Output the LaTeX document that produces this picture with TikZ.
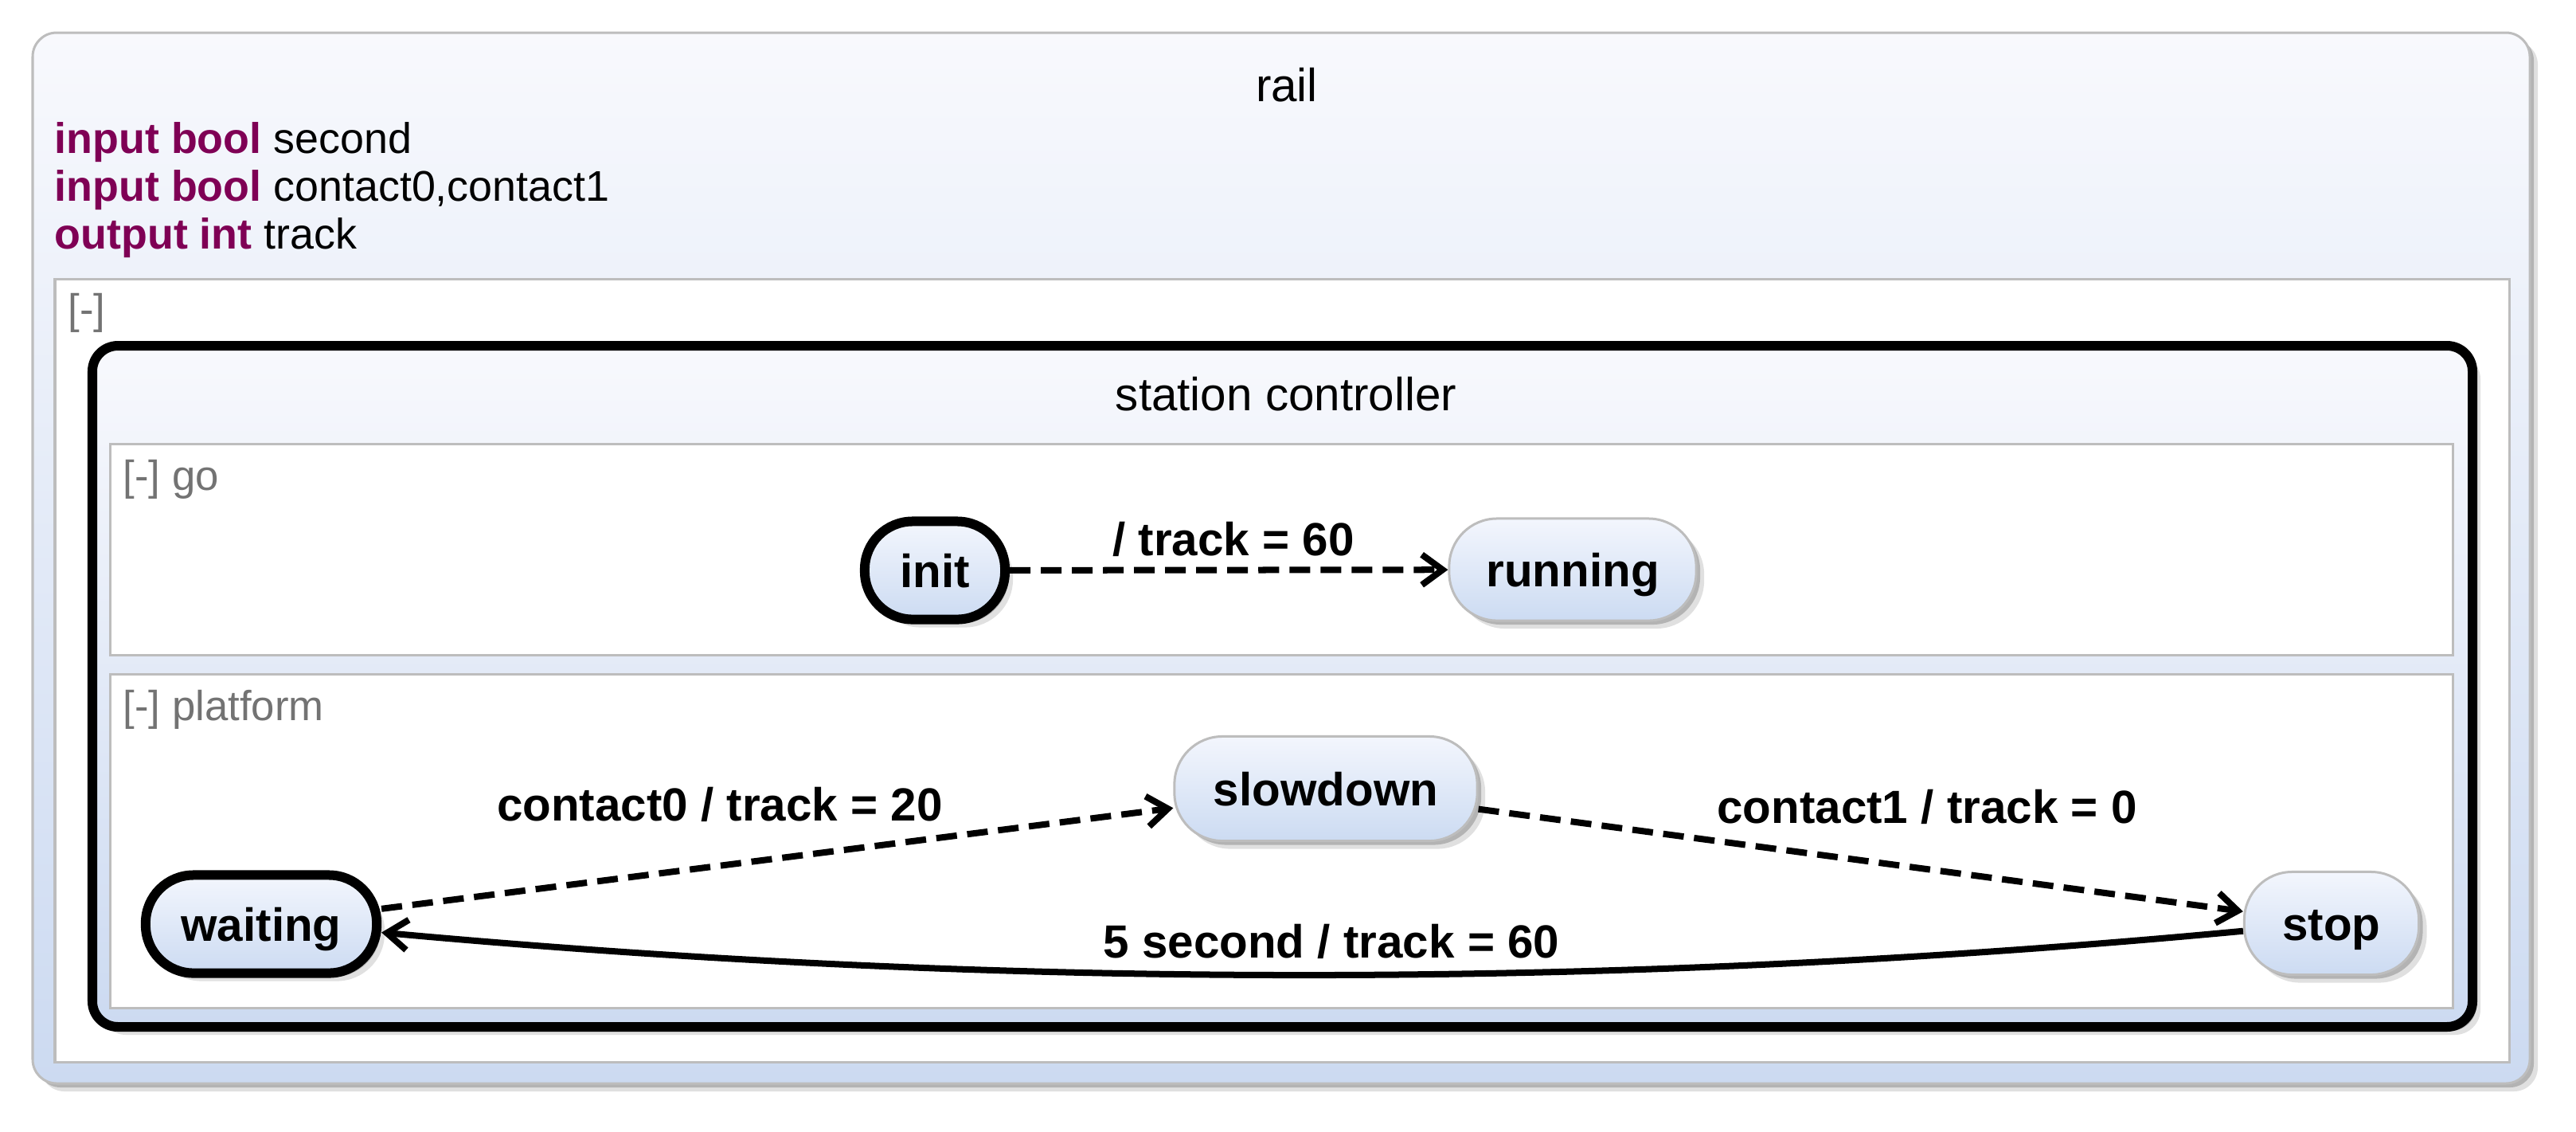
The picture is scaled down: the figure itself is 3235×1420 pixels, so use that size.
\documentclass[tikz,border=0pt]{standalone}
\usepackage{fontspec}
\setmainfont{Liberation Sans}
\usetikzlibrary{arrows.meta,shadows}
\definecolor{kw}{HTML}{7F0055}
\definecolor{frame}{HTML}{BDBDBD}
\definecolor{gtop}{HTML}{F8F9FD}
\definecolor{gbot}{HTML}{CCDAF1}
\definecolor{stop}{HTML}{F3F6FD}
\definecolor{sbot}{HTML}{CCDBF2}
\definecolor{labgray}{HTML}{737373}
\begin{document}
\begin{tikzpicture}[x=0.01cm, y=-0.01cm,
  softshadow/.style={drop shadow={shadow xshift=0.1cm, shadow yshift=-0.1cm, fill=black, opacity=0.12},
                     drop shadow={shadow xshift=0.05cm, shadow yshift=-0.05cm, fill=black, opacity=0.2}},
  decl/.style={anchor=base west, inner sep=0, font=\fontsize{15.3pt}{18pt}\selectfont},
  titletext/.style={anchor=base, inner sep=0, font=\fontsize{16.6pt}{20pt}\selectfont},
  grouplabel/.style={anchor=base west, inner sep=0, text=labgray, font=\fontsize{15pt}{18pt}\selectfont},
  translabel/.style={anchor=base, inner sep=0, font=\bfseries\fontsize{16.6pt}{20pt}\selectfont},
  statebox/.style={rectangle, rounded corners=0.6cm, draw=frame, line width=0.03cm,
    top color=stop, bottom color=sbot, inner sep=0, text height=0.42cm, text depth=0cm,
    font=\bfseries\fontsize{16.6pt}{20pt}\selectfont, softshadow},
  initstate/.style={statebox, draw=black, line width=0.12cm},
  trans/.style={line width=0.08cm, -{Straight Barb[length=0.26cm, width=0.38cm]}},
  dashtrans/.style={trans, dash pattern=on 0.26cm off 0.13cm},
  regionbox/.style={draw=frame, line width=0.03cm, fill=white}
]
\useasboundingbox (0,0) rectangle (3235,1420);
\fill[white] (0,0) rectangle (3235,1420);

% outer rail box
\draw[draw=frame, line width=0.03cm, rounded corners=0.3cm, top color=gtop, bottom color=gbot, softshadow]
  (41,41) rectangle (3177,1360);
\node[titletext] (railtitle) at (1616,127) {rail};
\node[decl] (d1) at (68,192) {\textcolor{kw}{\bfseries input bool} second};
\node[decl] (d2) at (68,252) {\textcolor{kw}{\bfseries input bool} contact0,contact1};
\node[decl] (d3) at (68,312) {\textcolor{kw}{\bfseries output int} track};

% region
\draw[regionbox] (69,350) rectangle (3151,1333);
\node[grouplabel] (g0) at (85,406) {[-]};

% station controller
\draw[draw=black, line width=0.12cm, rounded corners=0.32cm, top color=gtop, bottom color=gbot, softshadow]
  (116,434) rectangle (3105,1289);
\node[titletext] (sctitle) at (1615,515) {station controller};

% go region
\draw[regionbox] (138,557) rectangle (3080,822);
\node[grouplabel] (g1) at (154,615) {[-] go};

% platform region
\draw[regionbox] (138,846) rectangle (3080,1265);
\node[grouplabel] (g2) at (154,904) {[-] platform};

% states
\node[initstate, minimum width=1.76cm, minimum height=1.23cm] (init) at (1174,716) {init};
\node[statebox, minimum width=3.10cm, minimum height=1.28cm] (running) at (1975,715) {running};
\node[initstate, minimum width=2.90cm, minimum height=1.23cm] (waiting) at (328,1160) {waiting};
\node[statebox, minimum width=3.80cm, minimum height=1.31cm] (slowdown) at (1665,990) {slowdown};
\node[statebox, minimum width=2.19cm, minimum height=1.29cm] (stop) at (2928,1159) {stop};

% transitions
\draw[dashtrans] (init) -- (running);
\node[translabel] (l1) at (1549,697) {/ track = 60};

\draw[dashtrans] (waiting) -- (slowdown);
\node[translabel] (l2) at (904,1030) {contact0 / track = 20};

\draw[dashtrans] (slowdown) -- (stop);
\node[translabel] (l3) at (2420,1033) {contact1 / track = 0};

\coordinate (c1) at (2038,1242);
\coordinate (c2) at (1258,1242);
\draw[trans] (stop.185) .. controls (c1) and (c2) .. (waiting.-4);
\node[translabel] (l4) at (1672,1202) {5 second / track = 60};
\end{tikzpicture}
\end{document}
